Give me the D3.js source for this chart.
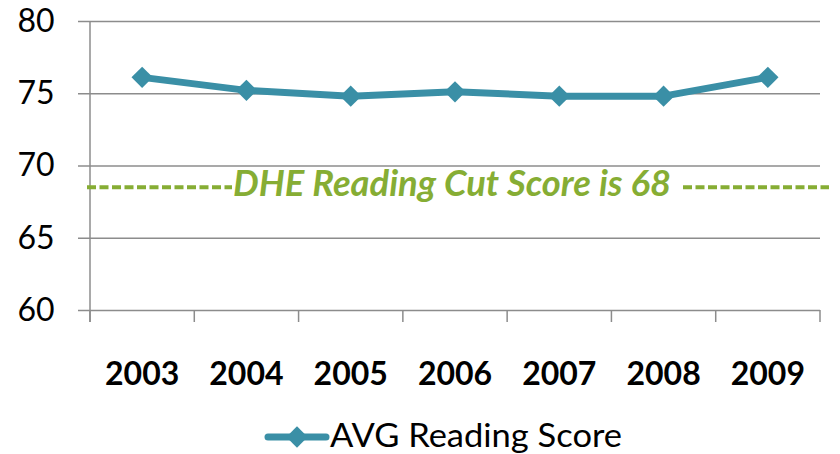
<!DOCTYPE html>
<html>
<head>
<meta charset="utf-8">
<script src="https://cdnjs.cloudflare.com/ajax/libs/d3/7.8.5/d3.min.js"></script>
<style>
  body { margin: 0; background: #fff; }
  svg { display: block; }
</style>
</head>
<body>
<div id="chart"></div>
<script>
// Chart data
const years = ['2003', '2004', '2005', '2006', '2007', '2008', '2009'];
const avgScores = [76.1, 75.2, 74.8, 75.1, 74.8, 74.8, 76.1];
const yTicks = [60, 65, 70, 75, 80];
const cutScore = 68.5;
const cutLabel = 'DHE Reading Cut Score is 68';
const seriesName = 'AVG Reading Score';

const width = 840, height = 454;
const margin = { top: 21, right: 20, bottom: 144, left: 90 };
const LINE_COLOR = '#3a8fa6';
const CUT_COLOR = '#86ad34';
const GRID_COLOR = '#8c8c8c';
const FONT = 'Lato, "Open Sans", sans-serif';

const svg = d3.select('#chart')
  .append('svg')
  .attr('width', width)
  .attr('height', height);

const x = d3.scaleBand()
  .domain(years)
  .range([margin.left, width - margin.right]);

const y = d3.scaleLinear()
  .domain([60, 80])
  .range([height - margin.bottom, margin.top]);

// Gridlines + y axis
const yAxis = d3.axisLeft(y)
  .tickValues(yTicks)
  .tickSize(-(width - margin.right - margin.left))
  .tickPadding(0)
  .tickFormat(d3.format('d'));

const gy = svg.append('g')
  .attr('transform', `translate(${margin.left},0)`)
  .call(yAxis);
gy.select('.domain').remove();
gy.selectAll('.tick line')
  .attr('x1', -12)
  .attr('stroke', GRID_COLOR)
  .attr('stroke-width', 1.5);
gy.selectAll('.tick text')
  .attr('x', -54)
  .attr('dy', '0.32em')
  .attr('text-anchor', 'middle')
  .attr('font-family', FONT)
  .attr('font-size', '32px')
  .attr('fill', '#000');

// Vertical axis line
svg.append('line')
  .attr('x1', margin.left).attr('x2', margin.left)
  .attr('y1', y(80)).attr('y2', y(60) + 12)
  .attr('stroke', GRID_COLOR)
  .attr('stroke-width', 1.5);

// x axis
const xAxis = d3.axisBottom(x).tickSize(0).tickPadding(0);
const gx = svg.append('g')
  .attr('transform', `translate(0,${y(60)})`)
  .call(xAxis);
gx.select('.domain').remove();
gx.selectAll('.tick text')
  .attr('y', 75)
  .attr('dy', 0)
  .attr('font-family', FONT)
  .attr('font-size', '32px')
  .attr('font-weight', 'bold')
  .attr('fill', '#000');

// category boundary ticks
const bounds = years.map(d => x(d)).concat([x(years[years.length - 1]) + x.bandwidth()]);
svg.append('g')
  .selectAll('line')
  .data(bounds)
  .enter()
  .append('line')
  .attr('x1', d => d).attr('x2', d => d)
  .attr('y1', y(60)).attr('y2', y(60) + 12)
  .attr('stroke', GRID_COLOR)
  .attr('stroke-width', 1.5);

// Series line
const cx = d => x(d) + x.bandwidth() / 2;
const line = d3.line()
  .x((d, i) => cx(years[i]))
  .y(d => y(d));

svg.append('path')
  .datum(avgScores)
  .attr('d', line)
  .attr('fill', 'none')
  .attr('stroke', LINE_COLOR)
  .attr('stroke-width', 7)
  .attr('stroke-linejoin', 'round');

const diamond = d3.symbol().type(d3.symbolDiamond2).size(290);
svg.append('g')
  .selectAll('path')
  .data(avgScores)
  .enter()
  .append('path')
  .attr('d', diamond)
  .attr('transform', (d, i) => `translate(${cx(years[i])},${y(d)})`)
  .attr('fill', LINE_COLOR);

// Cut score annotation
const cutY = y(cutScore);
svg.append('text')
  .attr('x', 233)
  .attr('y', cutY + 9)
  .attr('font-family', FONT)
  .attr('font-size', '36px')
  .attr('font-style', 'italic')
  .attr('font-weight', 'bold')
  .attr('textLength', 438)
  .attr('lengthAdjust', 'spacingAndGlyphs')
  .attr('fill', CUT_COLOR)
  .text(cutLabel);

[[87, 232], [683, 829]].forEach(([x1, x2]) => {
  svg.append('line')
    .attr('x1', x1).attr('x2', x2)
    .attr('y1', cutY).attr('y2', cutY)
    .attr('stroke', CUT_COLOR)
    .attr('stroke-width', 4)
    .attr('stroke-dasharray', '9,3.5');
});

// Legend
const legend = svg.append('g').attr('transform', 'translate(268,437)');
legend.append('line')
  .attr('x1', 0).attr('x2', 58)
  .attr('stroke', LINE_COLOR)
  .attr('stroke-width', 7)
  .attr('stroke-linecap', 'round');
legend.append('path')
  .attr('d', diamond)
  .attr('transform', 'translate(29,0)')
  .attr('fill', LINE_COLOR);
legend.append('text')
  .attr('x', 62)
  .attr('y', 10)
  .attr('font-family', FONT)
  .attr('font-size', '32px')
  .attr('textLength', 292)
  .attr('lengthAdjust', 'spacingAndGlyphs')
  .attr('fill', '#000')
  .text(seriesName);
</script>
</body>
</html>
